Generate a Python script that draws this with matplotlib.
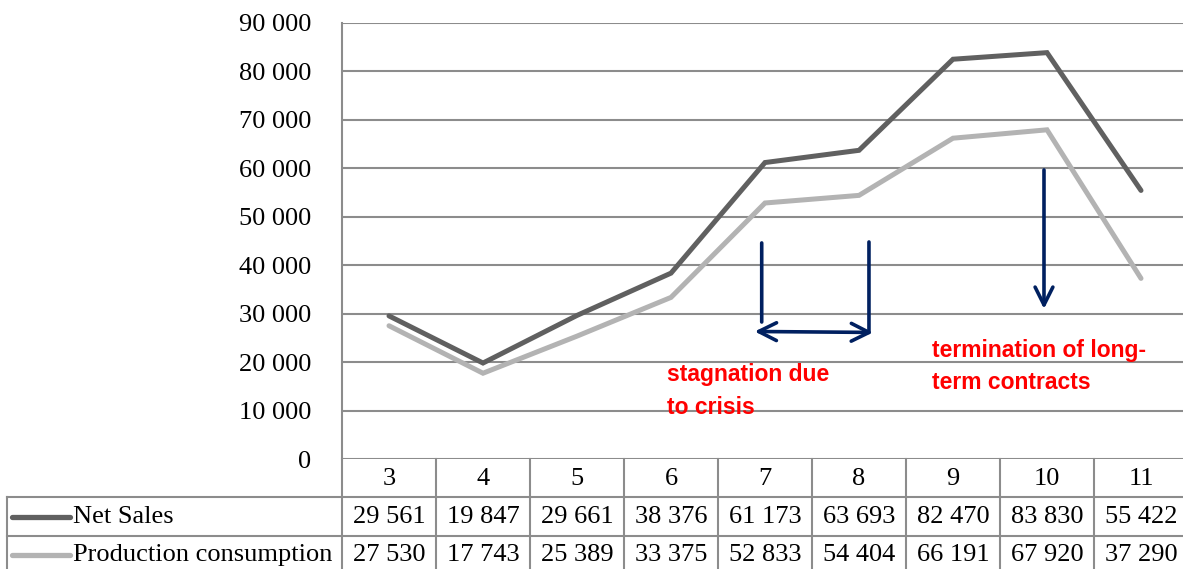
import matplotlib
matplotlib.use("Agg")
import matplotlib.pyplot as plt
from matplotlib.ticker import FuncFormatter

# data
years = ["3", "4", "5", "6", "7", "8", "9", "10", "11"]
net_sales = [29561, 19847, 29661, 38376, 61173, 63693, 82470, 83830, 55422]
prod_cons = [27530, 17743, 25389, 33375, 52833, 54404, 66191, 67920, 37290]
series_names = ["Net Sales", "Production consumption"]
y_ticks = list(range(0, 90001, 10000))

dark = "#606060"
light = "#b3b3b3"
grid = "#8c8c8c"
navy = "#002060"
red = "#ff0000"


def fmt(v):
    # space as thousands separator
    return f"{int(v):,}".replace(",", " ")


plt.rcParams['font.family'] = 'Liberation Serif'
fs = 19

W, H = 1183, 569
fig = plt.figure(figsize=(W / 100, H / 100), dpi=100)

# plot area in pixels
left, right, top, bottom = 342, 1188, 22.7, 459.3
colw = (right - left) / len(years)

ax = fig.add_axes([left / W, 1 - bottom / H, (right - left) / W, (bottom - top) / H])
x = [i + 0.5 for i in range(len(years))]
ax.plot(x, net_sales, color=dark, lw=3.6, solid_capstyle='round', solid_joinstyle='miter', zorder=3)
ax.plot(x, prod_cons, color=light, lw=3.6, solid_capstyle='round', solid_joinstyle='miter', zorder=3)

ax.set_xlim(0, len(years))
ax.set_ylim(0, 90000)
ax.set_yticks(y_ticks)
ax.yaxis.set_major_formatter(FuncFormatter(lambda v, p: fmt(v)))
ax.set_xticks([])
ax.grid(axis='y', color=grid, lw=1.5, zorder=0)
for s in ['top', 'right', 'bottom']:
    ax.spines[s].set_visible(False)
ax.spines['left'].set_color(grid)
ax.spines['left'].set_linewidth(1.5)
ax.tick_params(axis='y', length=0, pad=22, labelsize=fs)

# annotations: arrows (x in categories, y in values)
arr = dict(color=navy, lw=2.6, shrinkA=0, shrinkB=0, mutation_scale=32)
ax.annotate('', xy=(4.465, 28300), xytext=(4.465, 44600), arrowprops=dict(arrowstyle='-', **arr), annotation_clip=False)
ax.annotate('', xy=(5.606, 26500), xytext=(5.606, 44800), arrowprops=dict(arrowstyle='-', **arr), annotation_clip=False)
ax.annotate('', xy=(5.65, 26150), xytext=(4.39, 26350), arrowprops=dict(arrowstyle='<->', **arr), annotation_clip=False)
ax.annotate('', xy=(7.468, 31000), xytext=(7.468, 59650), arrowprops=dict(arrowstyle='->', **arr), annotation_clip=False)

ax.text(3.457, 19800, "stagnation due\nto crisis", color=red, fontsize=16.5, fontweight='bold',
        family='Liberation Sans', va='top', ha='left', linespacing=1.55)
ax.text(6.277, 24800, "termination of long-\nterm contracts", color=red, fontsize=16.5, fontweight='bold',
        family='Liberation Sans', va='top', ha='left', linespacing=1.5)

# data table below the chart, drawn in pixel coords
tab = fig.add_axes([0, 0, 1, 1])
tab.set_xlim(0, W)
tab.set_ylim(H, 0)
tab.axis('off')

row_lines = [497, 536]
tab_left = 7
for ry in row_lines:
    tab.plot([tab_left, W], [ry, ry], color=grid, lw=1.5)
tab.plot([tab_left, tab_left], [row_lines[0], H], color=grid, lw=1.5)
for i in range(len(years) + 1):
    cx = left + i * colw
    tab.plot([cx, cx], [bottom, H], color=grid, lw=1.5)

centers = [left + (i + 0.5) * colw for i in range(len(years))]
for cx, yr, a, b in zip(centers, years, net_sales, prod_cons):
    tab.text(cx, 479, yr, ha='center', va='center', fontsize=fs)
    tab.text(cx, 517, fmt(a), ha='center', va='center', fontsize=fs)
    tab.text(cx, 555, fmt(b), ha='center', va='center', fontsize=fs)

row_y = [517, 555]
for ry, name, col in zip(row_y, series_names, [dark, light]):
    tab.plot([12, 70], [ry, ry], color=col, lw=3.8, solid_capstyle='round')
    tab.text(73, ry, name, ha='left', va='center', fontsize=fs)

fig.savefig("out.png", dpi=100)
